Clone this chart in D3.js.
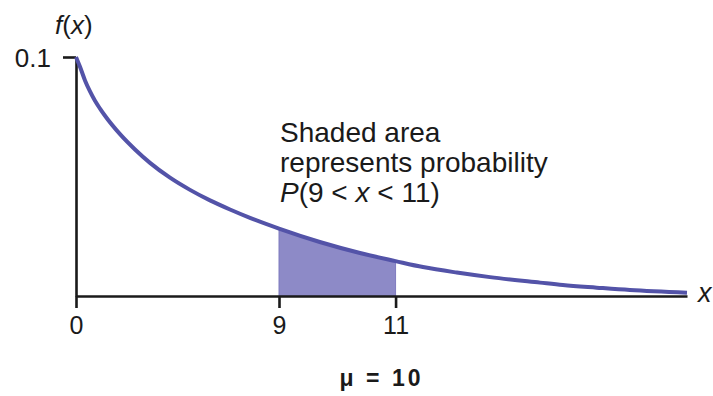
<!DOCTYPE html>
<html>
<head>
<meta charset="utf-8">
<script src="https://cdn.jsdelivr.net/npm/d3@7"></script>
<style>
  html, body { margin: 0; padding: 0; background: #fff; }
  svg { display: block; }
  text { font-family: "Liberation Sans", Arial, sans-serif; fill: #1a1a1a; }
</style>
</head>
<body>
<svg id="chart" width="713" height="396"></svg>
<script>
// ---- data (the sketch is not drawn to scale) ----
const curveX = [0, 0.177, 0.399, 0.621, 0.842, 1.064, 1.286, 1.951, 2.616, 3.281, 4.167, 5.054,
                5.941, 6.827, 7.714, 9.00,
                9.70, 10.39, 11.00, 11.47, 12.05, 12.62, 13.48, 13.87, 14.45, 15.02, 16.00];
const curveF = [0.1000, 0.0959, 0.0902, 0.0856, 0.0817, 0.0784, 0.0754, 0.0677, 0.0613, 0.0557,
                0.0495, 0.0444, 0.0400, 0.0362, 0.0327, 0.0282,
                0.0226, 0.0180, 0.0146, 0.0121, 0.0098, 0.0079, 0.0056, 0.0046, 0.0035, 0.0025, 0.0014];
const shadeRange = [9, 11];
const xTickValues = [0, 9, 11];
const yTickValues = [0.1];
const yTickLabels = ["0.1"];
const annotationLines = ["Shaded area", "represents probability"];
const meanLabel = "\u03bc = 10";

// ---- layout ----
const svg = d3.select("#chart");
const axisColor = "#1a1a1a";
const curveColor = "#5353a8";
const fillColor = "#8d8ac7";

// Piecewise-linear x scale: the reference stretches the 9..16 part relative to 0..9
const x = d3.scaleLinear().domain([0, 9, 16]).range([76, 279, 687]);
const y = d3.scaleLinear().domain([0, 0.1]).range([296, 57]);

const pts = curveX.map((v, i) => ({ x: v, f: curveF[i] }));
const shadePts = pts.filter(d => d.x >= shadeRange[0] && d.x <= shadeRange[1]);

// shaded area
const area = d3.area()
  .x(d => x(d.x)).y0(y(0)).y1(d => y(d.f))
  .curve(d3.curveMonotoneX);
svg.append("path")
  .datum(shadePts)
  .attr("d", area)
  .attr("fill", fillColor)
  .attr("stroke", "#7f7bbf")
  .attr("stroke-width", 1);

// x axis
const xAxis = d3.axisBottom(x)
  .tickValues(xTickValues)
  .tickSizeInner(12)
  .tickSizeOuter(0)
  .tickPadding(8)
  .tickFormat(d3.format("d"));
const gx = svg.append("g").attr("transform", `translate(0,${y(0)})`).call(xAxis);
gx.select(".domain").attr("stroke", axisColor).attr("stroke-width", 2.6);
gx.selectAll(".tick line").attr("stroke", axisColor).attr("stroke-width", 2.6);
gx.selectAll(".tick text")
  .attr("font-size", 25)
  .attr("font-family", "Liberation Sans, Arial, sans-serif")
  .attr("fill", "#1a1a1a")
  .attr("dy", "0.71em");

// y axis
const yAxis = d3.axisLeft(y)
  .tickValues(yTickValues)
  .tickSizeInner(13)
  .tickSizeOuter(0)
  .tickPadding(12)
  .tickFormat((d, i) => yTickLabels[i]);
const gy = svg.append("g").attr("transform", `translate(${x(0)},0)`).call(yAxis);
gy.select(".domain").attr("stroke", axisColor).attr("stroke-width", 2.6);
gy.selectAll(".tick line").attr("stroke", axisColor).attr("stroke-width", 2.6);
gy.selectAll(".tick text")
  .attr("font-size", 26)
  .attr("font-family", "Liberation Sans, Arial, sans-serif")
  .attr("fill", "#1a1a1a")
  .attr("dy", "0.36em");

// curve
const line = d3.line().x(d => x(d.x)).y(d => y(d.f)).curve(d3.curveMonotoneX);
svg.append("path")
  .datum(pts)
  .attr("d", line)
  .attr("fill", "none")
  .attr("stroke", curveColor)
  .attr("stroke-width", 4)
  .attr("stroke-linecap", "butt");

// axis titles
const fx = svg.append("text").attr("x", 55).attr("y", 34).attr("font-size", 26);
fx.append("tspan").attr("font-style", "italic").text("f");
fx.append("tspan").text("(");
fx.append("tspan").attr("font-style", "italic").text("x");
fx.append("tspan").text(")");

svg.append("text").attr("x", 698).attr("y", 302)
  .attr("font-size", 27).attr("font-style", "italic").text("x");

// annotation
const annX = 280;
annotationLines.forEach((t, i) => {
  svg.append("text").attr("x", annX).attr("y", 142 + i * 30).attr("font-size", 28).text(t);
});
const pt = svg.append("text").attr("x", annX).attr("y", 202).attr("font-size", 28);
pt.append("tspan").attr("font-style", "italic").text("P");
pt.append("tspan").text(`(${shadeRange[0]} < `);
pt.append("tspan").attr("font-style", "italic").text("x");
pt.append("tspan").text(` < ${shadeRange[1]})`);

// mean label
svg.append("text")
  .attr("x", 380).attr("y", 386)
  .attr("text-anchor", "middle")
  .attr("font-size", 23)
  .attr("font-weight", "bold")
  .attr("textLength", 81)
  .attr("lengthAdjust", "spacing")
  .text(meanLabel);
</script>
</body>
</html>
